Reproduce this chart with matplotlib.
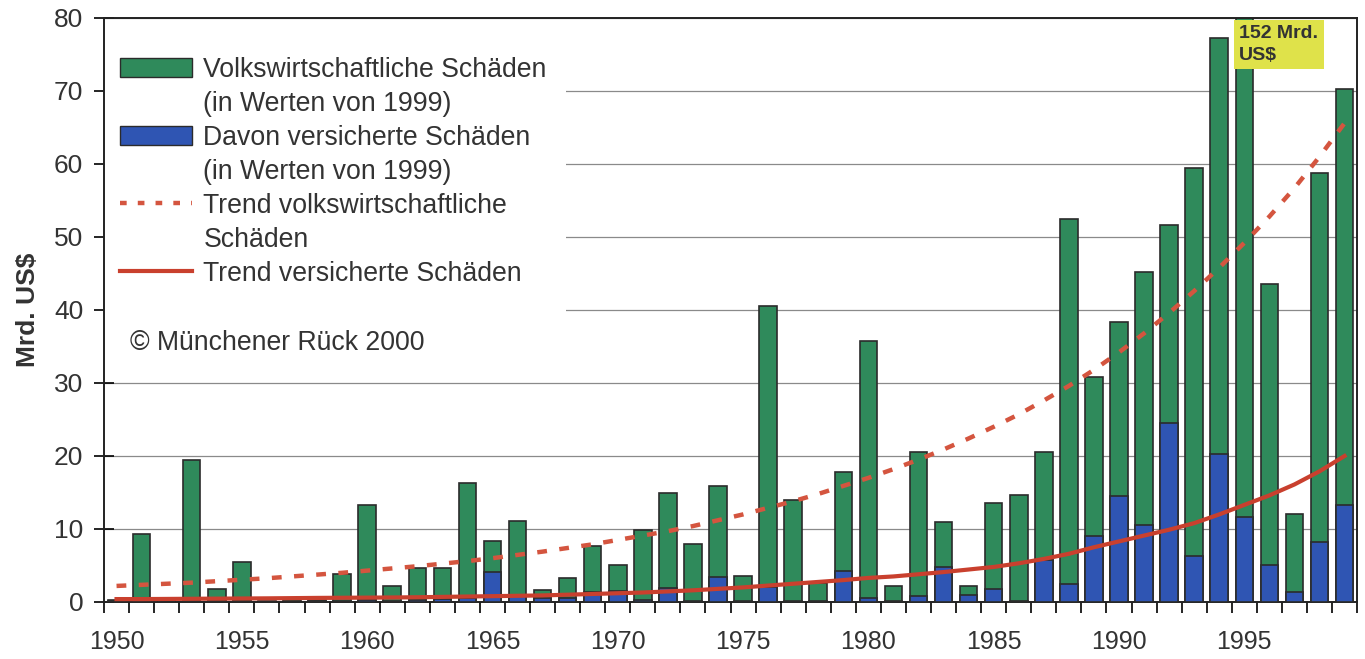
import numpy as np
import matplotlib
matplotlib.use("Agg")
import matplotlib.pyplot as plt
from matplotlib.patches import Patch, Rectangle
from matplotlib.lines import Line2D


YEARS = np.arange(1950, 2000)

# Volkswirtschaftliche Schäden (Mrd. US$, Werte von 1999)
TOTAL = [
    0.3, 9.3, 0.2, 19.5, 1.8, 5.5, 0.2, 0.3, 0.3, 3.8,
    13.3, 2.2, 4.6, 4.6, 16.3, 8.3, 11.1, 1.6, 3.3, 7.7,
    5.0, 9.9, 14.9, 8.0, 15.9, 3.5, 40.5, 14.0, 2.6, 17.8,
    35.8, 2.2, 20.5, 11.0, 2.2, 13.5, 14.6, 20.5, 52.5, 30.8,
    38.3, 45.2, 51.7, 59.5, 77.2, 152.0, 43.5, 12.0, 58.8, 70.3,
]

# davon versicherte Schäden
INSURED = [
    0.1, 0.2, 0.05, 0.2, 0.1, 0.1, 0.05, 0.05, 0.1, 0.2,
    0.3, 0.2, 0.3, 0.4, 0.5, 4.1, 0.8, 0.5, 0.5, 1.4,
    1.5, 0.3, 1.9, 0.2, 3.4, 0.2, 2.0, 0.2, 0.2, 4.2,
    0.5, 0.1, 0.8, 4.8, 1.0, 1.8, 0.2, 5.8, 2.5, 9.0,
    14.5, 10.5, 24.5, 6.3, 20.3, 11.7, 5.0, 1.4, 8.2, 13.3,
]

TREND_TOTAL = [
    2.2, 2.35, 2.5, 2.65, 2.85, 3.05, 3.25, 3.5, 3.75, 4.0,
    4.3, 4.6, 4.9, 5.25, 5.6, 6.0, 6.45, 6.9, 7.4, 7.9,
    8.5, 9.1, 9.7, 10.4, 11.2, 12.0, 12.9, 13.8, 14.8, 15.9,
    17.0, 18.2, 19.5, 20.9, 22.4, 24.0, 25.7, 27.6, 29.6, 31.8,
    34.2, 36.8, 39.6, 42.6, 45.8, 49.2, 52.8, 56.7, 61.0, 65.6,
]

TREND_INSURED = [
    0.4, 0.4, 0.42, 0.44, 0.46, 0.48, 0.5, 0.53, 0.56, 0.58,
    0.6, 0.62, 0.65, 0.7, 0.75, 0.8, 0.85, 0.9, 1.0, 1.1,
    1.2, 1.3, 1.45, 1.6, 1.8, 2.0, 2.25, 2.5, 2.75, 3.0,
    3.3, 3.5, 3.8, 4.1, 4.45, 4.8, 5.3, 5.9, 6.6, 7.5,
    8.3, 9.1, 9.9, 10.8, 12.0, 13.3, 14.6, 16.1, 17.9, 20.0,
]

TICK_YEARS = [1950, 1955, 1960, 1965, 1970, 1975, 1980, 1985, 1990, 1995]

LEGEND_LABELS = [
    "Volkswirtschaftliche Schäden",
    "(in Werten von 1999)",
    "Davon versicherte Schäden",
    "(in Werten von 1999)",
    "Trend volkswirtschaftliche",
    "Schäden",
    "Trend versicherte Schäden",
]
NOTE_1995 = "152 Mrd.\nUS$"
COPYRIGHT = "© Münchener Rück 2000"

GREEN = "#2f8a5b"
BLUE = "#2f55b3"
EDGE = "#2b2b2b"
RED_DOT = "#d4553f"
RED_LINE = "#c9402e"
TXT = "#333333"

plt.rcParams["font.family"] = ["Liberation Sans", "DejaVu Sans"]

fig = plt.figure(figsize=(13.65, 6.59), dpi=100)
ax = fig.add_axes([0.0762, 0.0865, 0.9180, 0.8862])

x = np.arange(len(YEARS))
ax.bar(x, TOTAL, width=0.7, color=GREEN, edgecolor=EDGE, linewidth=1.2, zorder=2)
ax.bar(x, INSURED, width=0.7, color=BLUE, edgecolor=EDGE, linewidth=1.2, zorder=3)
ax.plot(x, TREND_TOTAL, color=RED_DOT, lw=3.2, dashes=(2.2, 2.8), zorder=4)
ax.plot(x, TREND_INSURED, color=RED_LINE, lw=3, zorder=4)

ax.set_xlim(-0.5, len(YEARS) - 0.5)
ax.set_ylim(0, 80)
ax.set_yticks(range(0, 81, 10))
ax.yaxis.grid(True, color="#8a8a8a", lw=0.9)
ax.set_axisbelow(True)

# gridlines are hidden behind the legend block
ax.add_patch(Rectangle((0, 0.455), 0.369, 0.51, transform=ax.transAxes,
                       fc="white", ec="none", zorder=0.8))

ax.set_xticks([y - YEARS[0] for y in TICK_YEARS])
ax.set_xticklabels([str(y) for y in TICK_YEARS])
ax.set_xticks(np.arange(-0.5, len(YEARS), 1), minor=True)
ax.tick_params(axis="x", which="major", length=0, pad=20, labelsize=18, labelcolor=TXT)
ax.tick_params(axis="x", which="minor", length=8, width=1.2, direction="out")
ax.tick_params(axis="y", direction="inout", length=14, width=1.2, pad=8,
               labelsize=19, labelcolor=TXT)

for s in ax.spines.values():
    s.set_linewidth(1.4)
    s.set_color("#222222")

ax.set_ylabel("Mrd. US$", fontsize=19, fontweight="bold", labelpad=10, color=TXT)

blank = Patch(facecolor="none", edgecolor="none")
handles = [
    Patch(facecolor=GREEN, edgecolor=EDGE),
    blank,
    Patch(facecolor=BLUE, edgecolor=EDGE),
    blank,
    Line2D([], [], color=RED_DOT, lw=3.2, dashes=(1.5, 2.5)),
    blank,
    Line2D([], [], color=RED_LINE, lw=3),
]
ax.legend(handles, LEGEND_LABELS, loc="upper left", bbox_to_anchor=(0.0128, 0.934),
          frameon=False, fontsize=19.2, handlelength=2.7, handleheight=0.72,
          handletextpad=0.42, labelspacing=0.3, borderpad=0, borderaxespad=0,
          labelcolor=TXT)

ax.text(0.0208, 0.4435, COPYRIGHT, transform=ax.transAxes, fontsize=19.2,
        va="center", ha="left", color=TXT)

ax.text(44.8, 79.0, NOTE_1995, fontsize=14, fontweight="bold", color=TXT,
        va="top", ha="left", linespacing=1.35, zorder=6,
        bbox=dict(boxstyle="square,pad=0.28", fc="#dfe24a", ec="none"))

fig.savefig("out.png", dpi=100)
